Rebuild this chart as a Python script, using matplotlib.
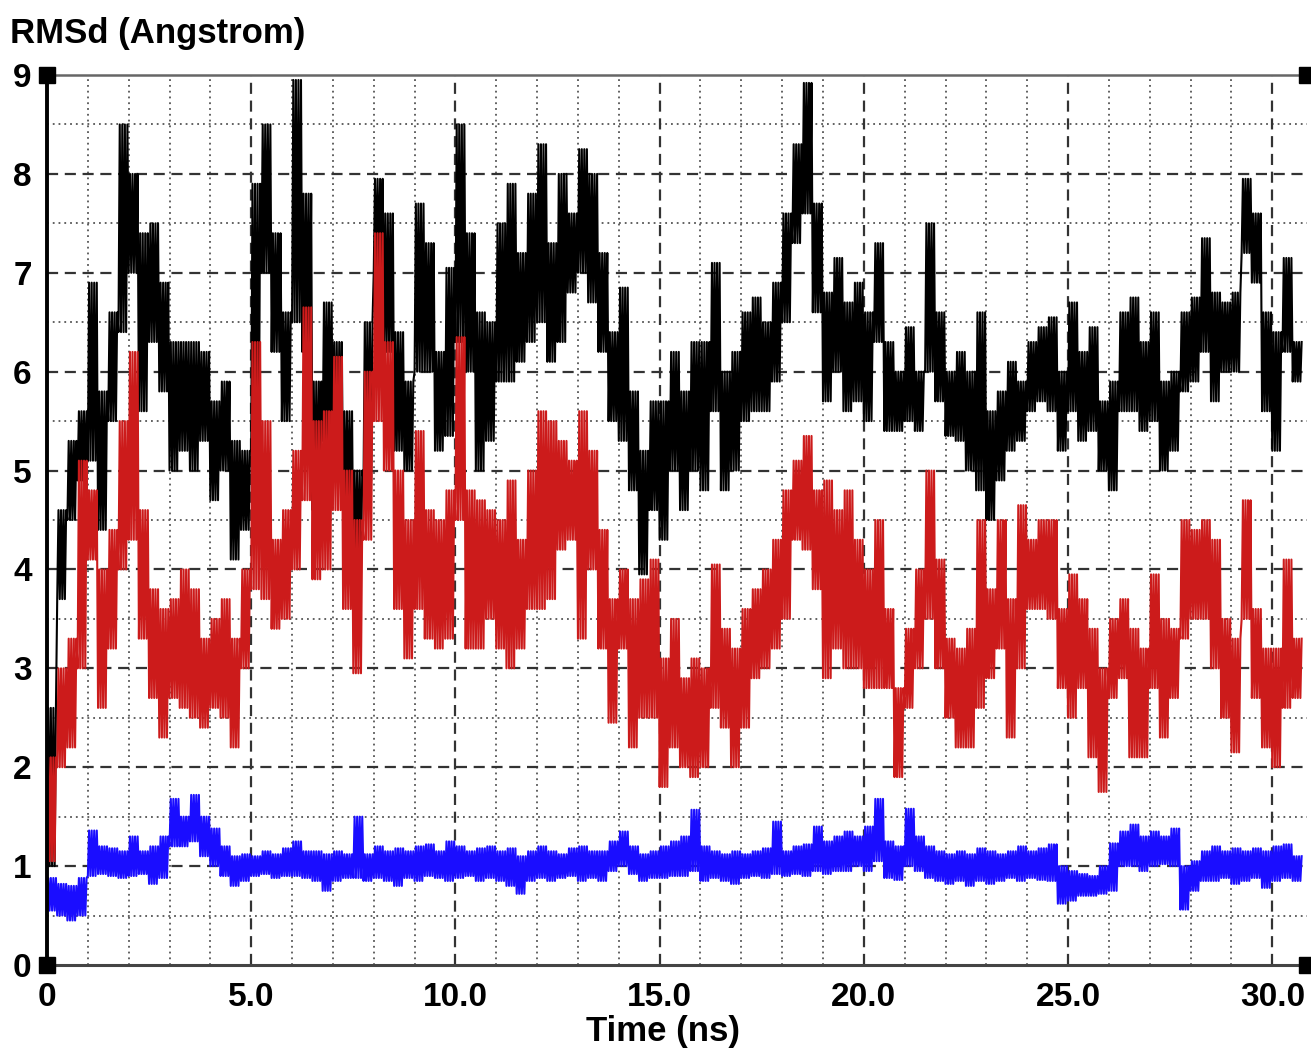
import numpy as np
import matplotlib
matplotlib.use('Agg')
import matplotlib.pyplot as plt

# === data: envelope (low, high) every 0.25 ns ===
STEP = 0.25

black_lo = [1.0, 3.7, 4.5, 4.9, 5.1, 4.4, 5.5, 6.4, 7.0, 5.6, 6.3, 5.8, 5.0, 5.2, 5.0, 5.3, 4.7, 5.0, 4.1, 4.4,
            5.2, 7.0, 6.2, 5.5, 6.5, 6.2, 4.6, 5.3, 5.2, 4.5, 3.95, 4.9, 7.0, 6.2, 5.2, 5.0, 6.0, 6.0, 5.2, 5.35,
            6.3, 6.0, 5.0, 5.3, 5.9, 5.9, 6.1, 6.3, 6.5, 6.1, 6.3, 6.8, 7.0, 6.7, 6.2, 5.5, 5.3, 4.8, 3.95, 4.6,
            4.3, 5.0, 4.6, 5.0, 4.8, 5.6, 4.8, 5.0, 5.5, 5.6, 5.6, 5.9, 6.5, 7.3, 7.6, 6.6, 5.7, 6.0, 5.6, 5.7,
            5.5, 6.3, 5.4, 5.4, 5.5, 5.4, 6.0, 5.7, 5.35, 5.3, 5.0, 4.8, 4.5, 4.9, 5.2, 5.3, 5.6, 5.7, 5.6, 5.2,
            5.6, 5.3, 5.4, 5.0, 4.8, 5.6, 5.6, 5.4, 5.5, 5.0, 5.2, 5.8, 5.9, 6.2, 5.7, 6.0, 6.0, 7.2, 6.9, 5.6,
            5.2, 6.2, 5.9]
black_hi = [2.6, 4.6, 5.3, 5.6, 6.9, 5.8, 6.6, 8.5, 8.0, 7.4, 7.5, 6.9, 6.3, 6.3, 6.3, 6.2, 5.7, 5.9, 5.3, 5.2,
            7.9, 8.5, 7.4, 6.6, 8.95, 7.8, 5.9, 6.7, 6.3, 5.6, 5.0, 6.5, 7.95, 7.6, 6.4, 5.9, 7.7, 7.3, 6.2, 7.05,
            8.5, 7.4, 6.6, 6.5, 7.5, 7.9, 7.2, 7.8, 8.3, 7.3, 8.0, 7.6, 8.25, 8.0, 7.2, 6.4, 6.85, 5.8, 5.2, 5.7,
            5.7, 6.2, 5.8, 6.3, 6.3, 7.1, 6.0, 6.2, 6.6, 6.75, 6.5, 6.9, 7.6, 8.3, 8.92, 7.7, 6.8, 7.15, 6.7, 6.9,
            6.6, 7.3, 6.3, 6.0, 6.45, 6.0, 7.5, 6.6, 6.0, 6.2, 6.0, 6.6, 5.6, 5.8, 6.1, 5.9, 6.3, 6.45, 6.55, 6.0,
            6.7, 6.2, 6.45, 5.7, 5.9, 6.6, 6.75, 6.3, 6.6, 5.9, 6.0, 6.6, 6.75, 7.35, 6.8, 6.7, 6.8, 7.95, 7.6, 6.6,
            6.4, 7.15, 6.3]

red_lo = [1.05, 2.0, 2.2, 3.0, 4.1, 2.6, 3.2, 4.0, 4.3, 3.3, 2.7, 2.3, 2.7, 2.6, 2.5, 2.4, 2.6, 2.5, 2.2, 3.0,
          3.8, 3.7, 3.4, 3.5, 4.0, 4.7, 3.9, 4.0, 4.6, 3.6, 2.95, 4.3, 5.5, 5.0, 3.6, 3.1, 3.6, 3.3, 3.2, 3.3,
          4.5, 3.2, 3.2, 3.5, 3.2, 3.0, 3.2, 3.6, 3.6, 3.7, 4.2, 4.3, 3.3, 4.0, 3.2, 2.45, 3.2, 2.2, 2.5, 2.5,
          1.8, 2.2, 2.0, 1.9, 2.0, 2.6, 2.4, 2.0, 2.4, 2.9, 3.0, 3.2, 3.5, 4.3, 4.2, 3.8, 2.9, 3.2, 3.0, 3.0,
          2.8, 2.8, 2.8, 1.9, 2.6, 3.0, 3.5, 3.0, 2.5, 2.2, 2.2, 2.6, 2.9, 3.2, 2.3, 3.0, 3.6, 3.6, 3.5, 2.8,
          2.5, 2.8, 2.1, 1.75, 2.7, 2.9, 2.1, 2.1, 2.8, 2.3, 2.7, 3.3, 3.5, 3.5, 3.0, 2.5, 2.15, 3.5, 2.7, 2.2,
          2.0, 2.6, 2.7]
red_hi = [2.1, 3.0, 3.3, 5.1, 4.8, 4.0, 4.4, 5.5, 6.2, 4.6, 3.8, 3.6, 3.7, 4.0, 3.8, 3.3, 3.5, 3.7, 3.3, 4.0,
          6.3, 5.5, 4.3, 4.6, 5.2, 6.65, 5.5, 5.6, 6.15, 5.0, 4.5, 6.0, 7.4, 6.3, 5.0, 4.5, 5.4, 4.6, 4.5, 4.8,
          6.35, 4.8, 4.7, 4.6, 4.5, 4.9, 4.3, 5.0, 5.6, 5.5, 5.3, 5.1, 5.6, 5.2, 4.4, 3.7, 4.0, 3.7, 3.9, 4.1,
          3.1, 3.5, 2.9, 3.1, 3.0, 4.05, 3.4, 3.2, 3.6, 3.8, 4.0, 4.3, 4.8, 5.1, 5.35, 4.8, 4.9, 4.6, 4.8, 4.3,
          4.0, 4.5, 3.6, 2.8, 3.4, 4.0, 5.0, 4.1, 3.3, 3.2, 3.4, 4.5, 3.8, 4.5, 3.7, 4.65, 4.3, 4.5, 4.5, 3.6,
          3.95, 3.7, 3.4, 3.0, 3.5, 3.7, 3.4, 3.2, 3.95, 3.5, 3.4, 4.5, 4.4, 4.5, 4.3, 3.5, 3.3, 4.7, 3.6, 3.2,
          3.2, 4.1, 3.3]

blue_lo = [0.55, 0.5, 0.45, 0.5, 0.9, 0.92, 0.9, 0.88, 0.9, 0.92, 0.82, 0.88, 1.2, 1.2, 1.25, 1.1, 1.0, 0.9, 0.8, 0.85,
           0.9, 0.92, 0.88, 0.9, 0.9, 0.88, 0.85, 0.75, 0.85, 0.88, 0.88, 0.85, 0.88, 0.85, 0.8, 0.88, 0.85, 0.9, 0.88, 0.85,
           0.88, 0.9, 0.85, 0.88, 0.85, 0.8, 0.72, 0.85, 0.88, 0.85, 0.88, 0.9, 0.85, 0.88, 0.85, 0.95, 1.0, 0.92, 0.85, 0.88,
           0.88, 0.9, 0.9, 0.95, 0.85, 0.88, 0.85, 0.82, 0.88, 0.9, 0.88, 0.92, 0.9, 0.92, 0.9, 0.95, 0.92, 0.95, 0.95, 1.0,
           0.95, 1.05, 0.88, 0.86, 1.0, 0.95, 0.88, 0.85, 0.82, 0.85, 0.8, 0.85, 0.82, 0.85, 0.88, 0.85, 0.88, 0.86, 0.85, 0.62,
           0.65, 0.7, 0.7, 0.72, 0.75, 1.0, 1.0, 0.95, 1.0, 1.02, 1.0, 0.56, 0.75, 0.85, 0.85, 0.88, 0.82, 0.85, 0.88, 0.78,
           0.85, 0.88, 0.85]
blue_hi = [0.88, 0.82, 0.8, 0.88, 1.36, 1.2, 1.18, 1.15, 1.3, 1.15, 1.2, 1.3, 1.68, 1.5, 1.72, 1.5, 1.38, 1.2, 1.1, 1.12,
           1.1, 1.15, 1.12, 1.18, 1.25, 1.15, 1.15, 1.12, 1.15, 1.12, 1.5, 1.12, 1.2, 1.15, 1.18, 1.15, 1.2, 1.22, 1.15, 1.25,
           1.2, 1.15, 1.18, 1.2, 1.15, 1.18, 1.1, 1.15, 1.2, 1.15, 1.12, 1.18, 1.2, 1.15, 1.15, 1.25, 1.35, 1.2, 1.12, 1.15,
           1.2, 1.25, 1.3, 1.57, 1.2, 1.15, 1.12, 1.15, 1.12, 1.15, 1.18, 1.45, 1.15, 1.2, 1.22, 1.4, 1.25, 1.3, 1.35, 1.3,
           1.4, 1.68, 1.25, 1.2, 1.58, 1.3, 1.2, 1.15, 1.12, 1.15, 1.12, 1.18, 1.15, 1.12, 1.15, 1.2, 1.15, 1.18, 1.22, 1.0,
           0.95, 0.92, 0.9, 1.0, 1.23, 1.35, 1.42, 1.3, 1.35, 1.3, 1.38, 1.0, 1.05, 1.15, 1.2, 1.15, 1.18, 1.15, 1.18, 1.15,
           1.2, 1.22, 1.1]

xticks = [0, 5, 10, 15, 20, 25, 30]
xticklabels = ['0', '5.0', '10.0', '15.0', '20.0', '25.0', '30.0']
yticks = list(range(10))

XMAX = 30.85
YMAX = 9
SUB = 8     # strokes per bin, low/high alternately

FONT = 'Liberation Sans'


def strokes(lo, hi):
    # inside each 0.25 ns bin the trace swings between its low and high value
    n = len(lo)
    x = np.empty(n * SUB)
    y = np.empty(n * SUB)
    for i in range(n):
        for k in range(SUB):
            x[i*SUB + k] = (i + k / SUB) * STEP
            y[i*SUB + k] = lo[i] if k % 2 == 0 else hi[i]
    return x, y


# ==========================
# Графика
# ==========================
fig = plt.figure(figsize=(13.11, 10.51), dpi=100)
ax = fig.add_axes([47/1311, 86/1051, 1260/1311, 890/1051])

ax.set_xlim(0, XMAX)
ax.set_ylim(0, YMAX)

# grid: dotted minor, dashed major
for xv in np.arange(1, 31):
    if xv % 5:
        ax.axvline(xv, color='#555555', lw=1.3, ls=(0, (1, 2.2)), zorder=0)
for yv in np.arange(0.5, 9, 1.0):
    ax.axhline(yv, color='#555555', lw=1.3, ls=(0, (1, 2.2)), zorder=0)
for xv in xticks[1:]:
    ax.axvline(xv, color='#333333', lw=1.6, ls=(0, (5, 3)), zorder=0)
for yv in yticks[1:-1]:
    ax.axhline(yv, color='#333333', lw=1.6, ls=(0, (5, 3)), zorder=0)

x, y = strokes(black_lo, black_hi)
ax.plot(x, y, color='black', lw=1.5, zorder=2)
x, y = strokes(red_lo, red_hi)
ax.plot(x, y, color='#cc1b1b', lw=1.5, zorder=3)
x, y = strokes(blue_lo, blue_hi)
ax.plot(x, y, color='#1a0dff', lw=1.5, zorder=4)

# corner squares
ax.plot([0, 0, XMAX, XMAX], [0, YMAX, YMAX, 0], ls='none', marker='s', ms=11,
        color='black', clip_on=False, zorder=6)

ax.spines['right'].set_visible(False)
ax.spines['left'].set_linewidth(2.8)
ax.spines['left'].set_color('black')
ax.spines['bottom'].set_linewidth(2.2)
ax.spines['bottom'].set_color('#444444')
ax.spines['top'].set_linewidth(1.8)
ax.spines['top'].set_color('#666666')
for s in ax.spines.values():
    s.set_zorder(5)

ax.set_xticks(xticks)
ax.set_xticklabels(xticklabels)
ax.set_yticks(yticks)
ax.tick_params(axis='y', length=0, pad=11)
ax.tick_params(axis='x', length=0, pad=12)
for lab in ax.get_xticklabels() + ax.get_yticklabels():
    lab.set_fontfamily(FONT)
    lab.set_fontweight('bold')
    lab.set_fontsize(24)

fig.text(10/1311, 1 - 33/1051, 'RMSd (Angstrom)', fontsize=25, fontweight='bold',
         family=FONT, ha='left', va='center')
fig.text(663/1311, 1 - 1032/1051, 'Time (ns)', fontsize=25, fontweight='bold',
         family=FONT, ha='center', va='center')

fig.savefig('out.png', dpi=100)
